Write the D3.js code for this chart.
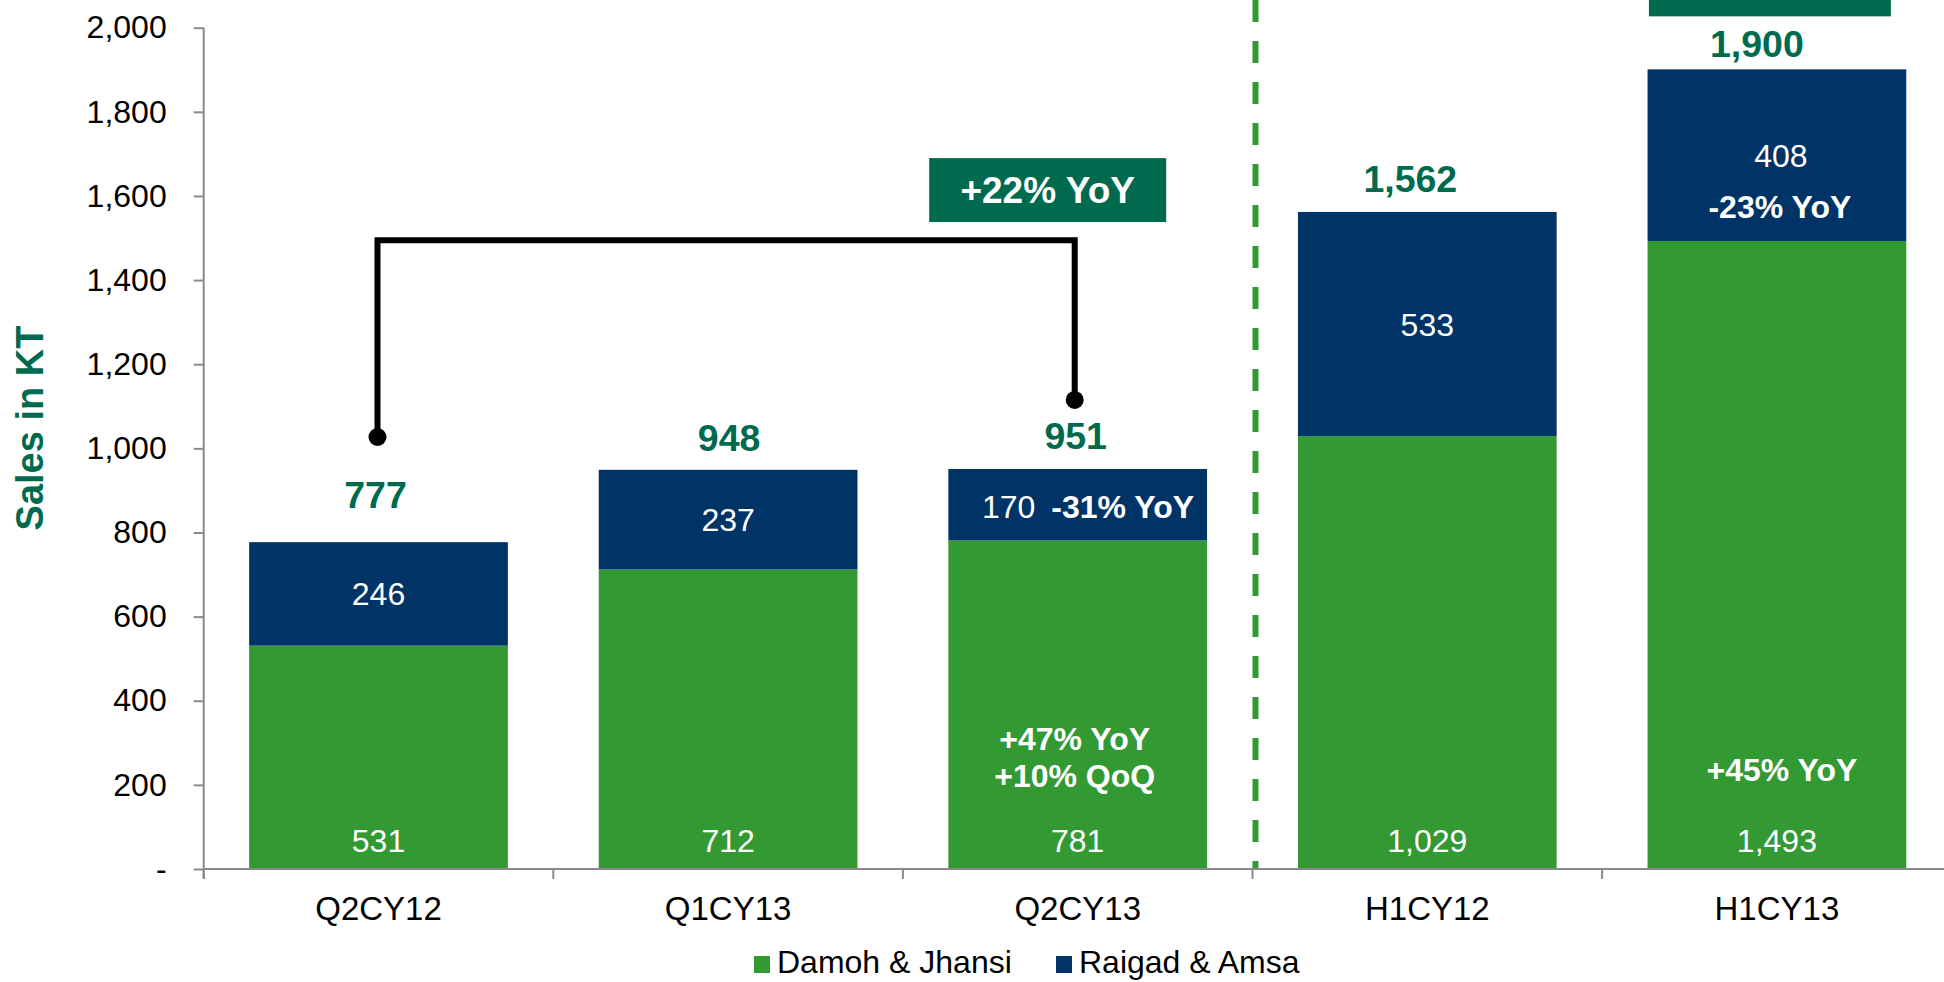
<!DOCTYPE html>
<html><head><meta charset="utf-8">
<script src="https://cdn.jsdelivr.net/npm/d3@7"></script>
<style>
body{margin:0;background:#fff;}
svg{display:block;font-family:Arial,"Liberation Sans",sans-serif;}
</style>
</head><body>
<svg id="c" width="1944" height="982"></svg>
<script>
// ---- data ----
const categories = ["Q2CY12", "Q1CY13", "Q2CY13", "H1CY12", "H1CY13"];
const damohJhansi = [531, 712, 781, 1029, 1493];
const raigadAmsa = [246, 237, 170, 533, 408];
const totals = [777, 948, 951, 1562, 1900];
const yTickValues = [0, 200, 400, 600, 800, 1000, 1200, 1400, 1600, 1800, 2000];
const seriesNames = ["Damoh & Jhansi", "Raigad & Amsa"];
const raigadNotes = [null, null, "-31% YoY", null, "-23% YoY"];
const damohNotes = [[], [], ["+47% YoY", "+10% QoQ"], [], ["+45% YoY"]];
const growthLabel = "+22% YoY";
const bracketFrom = {cat: "Q2CY12", value: 1027};
const bracketTo = {cat: "Q2CY13", value: 1115};
const bracketTop = 1495;

// ---- layout / style ----
const GREEN = "#339933", NAVY = "#003366", DARK = "#006A4E", AXIS = "#8a8a8a";
const totalGap = [34, 19, 20, 20, 13];
const totalDx = [-3, 1, -2, -17, -20];

const svg = d3.select("#c");
const step = 349.6, x0 = 203.7;
const x = d3.scaleBand().domain(categories)
  .range([x0, x0 + categories.length * step])
  .paddingInner(0.26).paddingOuter(0.13);
const y = d3.scaleLinear().domain([0, 2000]).range([869, 27.7]);
const cx = c => x(c) + x.bandwidth() / 2;

// dashed separator
const sepX = x("H1CY12") - x.step() * 0.13 + 3;
svg.append("line")
  .attr("x1", sepX).attr("x2", sepX)
  .attr("y1", 0).attr("y2", y(0))
  .attr("stroke", GREEN).attr("stroke-width", 6).attr("stroke-dasharray", "22,19");

// stacked bars
const rows = categories.map((c, i) => ({cat: c, d: damohJhansi[i], r: raigadAmsa[i]}));
const stack = d3.stack().keys(["d", "r"])(rows);
const colors = [GREEN, NAVY];
svg.append("g").selectAll("g").data(stack).join("g")
  .attr("fill", (s, i) => colors[i])
  .selectAll("rect").data(s => s).join("rect")
  .attr("x", d => x(d.data.cat)).attr("width", x.bandwidth())
  .attr("y", d => y(d[1])).attr("height", d => y(d[0]) - y(d[1]));

// axes
const yAxis = svg.append("g").attr("transform", `translate(${x0},0)`)
  .call(d3.axisLeft(y).tickValues(yTickValues).tickSize(10).tickPadding(27)
    .tickFormat(v => v === 0 ? "-" : d3.format(",")(v)));
yAxis.select(".domain").remove();
yAxis.selectAll("line").attr("stroke", AXIS).attr("stroke-width", 2);
yAxis.selectAll("text").attr("font-size", 32).attr("fill", "#000").attr("font-family", "Arial, Liberation Sans");
svg.append("line").attr("x1", x0).attr("x2", x0).attr("y1", y(2000)).attr("y2", y(0) + 10)
  .attr("stroke", AXIS).attr("stroke-width", 2);

const xAxis = svg.append("g").attr("transform", `translate(0,${y(0)})`)
  .call(d3.axisBottom(x).tickSize(0).tickPadding(28));
xAxis.select(".domain").remove();
xAxis.selectAll("text").attr("font-size", 33).attr("fill", "#000").attr("font-family", "Arial, Liberation Sans");
svg.append("line").attr("x1", x0).attr("x2", 1944).attr("y1", y(0)).attr("y2", y(0))
  .attr("stroke", AXIS).attr("stroke-width", 2);
svg.append("g").selectAll("line").data(d3.range(categories.length + 1)).join("line")
  .attr("x1", k => x0 + k * x.step()).attr("x2", k => x0 + k * x.step())
  .attr("y1", y(0)).attr("y2", y(0) + 10)
  .attr("stroke", AXIS).attr("stroke-width", 2);

// y-axis title
svg.append("text").attr("transform", `translate(43,428) rotate(-90)`)
  .attr("text-anchor", "middle").attr("font-size", 38).attr("font-weight", "bold")
  .attr("fill", DARK).text("Sales in KT");

// bottom (Damoh) values
svg.append("g").selectAll("text").data(rows).join("text")
  .attr("x", d => cx(d.cat)).attr("y", y(0) - 17)
  .attr("text-anchor", "middle").attr("font-size", 32).attr("fill", "#fff")
  .text(d => d3.format(",")(d.d));

// Raigad values
rows.forEach((d, i) => {
  const mid = (y(d.d) + y(d.d + d.r)) / 2;
  const g = svg.append("g").attr("fill", "#fff").attr("font-size", 32);
  if (i === 2) {
    g.append("text").attr("x", cx(d.cat) - 69).attr("y", mid).attr("dy", "0.4em")
      .attr("text-anchor", "middle").text(d3.format(",")(d.r));
    g.append("text").attr("x", cx(d.cat) + 45).attr("y", mid).attr("dy", "0.4em")
      .attr("text-anchor", "middle").attr("font-weight", "bold").text(raigadNotes[i]);
  } else {
    g.append("text").attr("x", cx(d.cat) + (i === 4 ? 4 : 0)).attr("y", mid).attr("dy", "0.36em")
      .attr("text-anchor", "middle").text(d3.format(",")(d.r));
    if (raigadNotes[i]) {
      g.append("text").attr("x", cx(d.cat) + 3).attr("y", mid + 63)
        .attr("text-anchor", "middle").attr("font-weight", "bold").text(raigadNotes[i]);
    }
  }
});

// Damoh notes
rows.forEach((d, i) => {
  const notes = damohNotes[i];
  const base = notes.length === 2 ? y(0) - 119 : y(0) - 88;
  notes.forEach((t, j) => {
    svg.append("text").attr("x", cx(d.cat) + (i === 4 ? 5 : -3)).attr("y", base + j * 37)
      .attr("text-anchor", "middle").attr("font-size", 32).attr("font-weight", "bold")
      .attr("fill", "#fff").text(t);
  });
});

// totals
svg.append("g").selectAll("text").data(rows).join("text")
  .attr("x", (d, i) => cx(d.cat) + totalDx[i]).attr("y", (d, i) => y(totals[i]) - totalGap[i])
  .attr("text-anchor", "middle").attr("font-size", 37.5).attr("font-weight", "bold")
  .attr("fill", DARK).text((d, i) => d3.format(",")(totals[i]));

// bracket
const bx1 = cx(bracketFrom.cat) - 1, bx2 = cx(bracketTo.cat) - 3;
svg.append("path")
  .attr("d", `M${bx1},${y(bracketFrom.value)}V${y(bracketTop)}H${bx2}V${y(bracketTo.value)}`)
  .attr("fill", "none").attr("stroke", "#000").attr("stroke-width", 6);
svg.append("circle").attr("cx", bx1).attr("cy", y(bracketFrom.value)).attr("r", 9);
svg.append("circle").attr("cx", bx2).attr("cy", y(bracketTo.value)).attr("r", 9);

// growth box
const boxCx = cx("Q2CY13") - 30;
svg.append("rect").attr("x", boxCx - 118.5).attr("y", y(1690)).attr("width", 237)
  .attr("height", y(1538) - y(1690)).attr("fill", DARK);
svg.append("text").attr("x", boxCx).attr("y", y(1538) - 19).attr("text-anchor", "middle")
  .attr("font-size", 37).attr("font-weight", "bold").attr("fill", "#fff").text(growthLabel);

// top-right box (cut off at top)
const box2Cx = cx("H1CY13") - 7;
svg.append("rect").attr("x", box2Cx - 121).attr("y", y(2027) - 64).attr("width", 242)
  .attr("height", 64).attr("fill", DARK);

// legend
const legend = svg.append("g");
const legX = [754, 1056];
seriesNames.forEach((n, i) => {
  legend.append("rect").attr("x", legX[i]).attr("y", 956).attr("width", 16).attr("height", 17)
    .attr("fill", colors[i]);
  legend.append("text").attr("x", legX[i] + 23).attr("y", 973).attr("font-size", 32)
    .attr("fill", "#000").text(n);
});
</script>
</body></html>
